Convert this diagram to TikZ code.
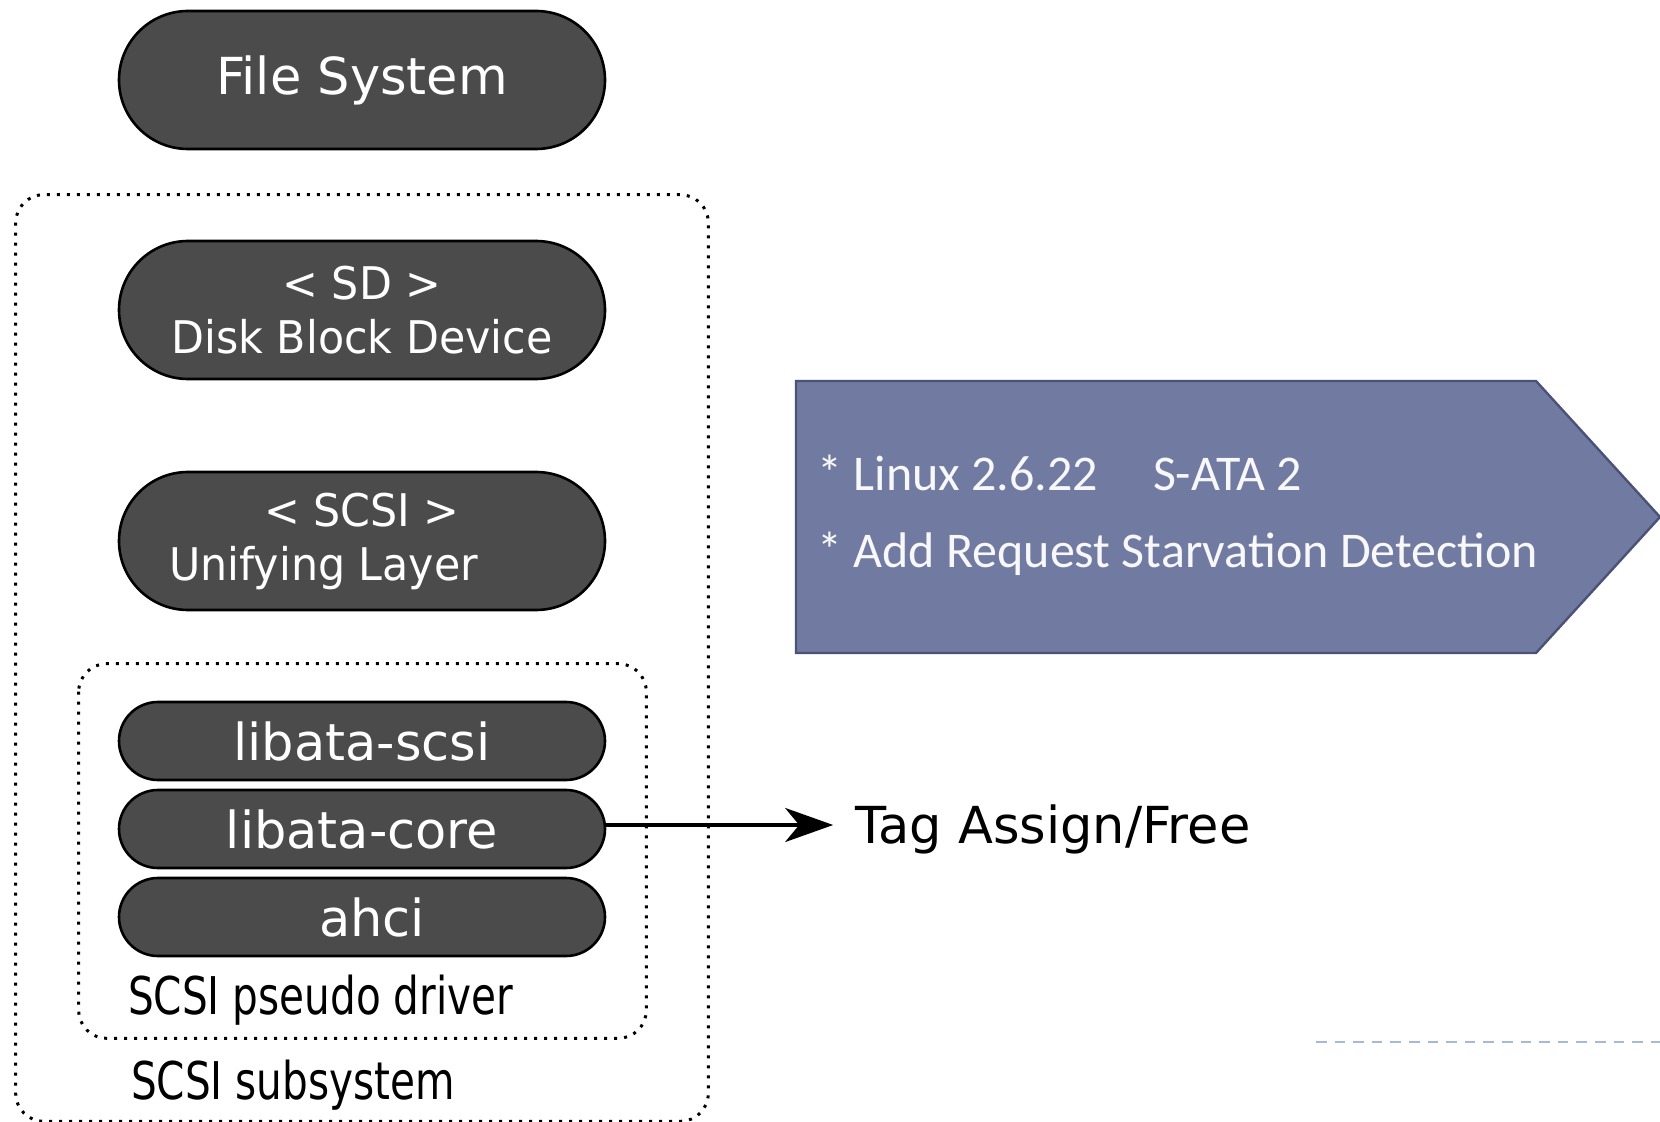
\documentclass[tikz,border=0pt]{standalone}
\usepackage{fontspec}
\setmainfont{DejaVu Sans}
\newfontfamily\narrowfont[FakeStretch=0.78]{DejaVu Sans}
\newfontfamily\pillfont[FakeStretch=0.95]{DejaVu Sans}
\newfontfamily\notefont{Carlito}
\usepackage{tikz}
\usetikzlibrary{shapes,calc,arrows.meta}
\definecolor{layergray}{HTML}{4B4B4B}
\definecolor{notefill}{HTML}{717BA1}
\definecolor{noteline}{HTML}{4A5278}
\definecolor{rulegray}{HTML}{A7BAD3}
\tikzstyle{layer} = [draw, line width=1.3pt, fill=layergray, text=white, rounded rectangle, minimum width=243pt, inner sep=0pt]
\tikzstyle{bigpill} = [layer, minimum height=69pt, align=center, font=\pillfont\fontsize{22.5}{27}\selectfont]
\tikzstyle{thinpill} = [layer, minimum height=39pt, font=\fontsize{25.5}{30}\selectfont]
\tikzstyle{groupbox} = [draw, line width=1.5pt, dash pattern=on 1.5pt off 3.5pt, rounded corners=14pt]
\tikzstyle{grouplabel} = [font=\narrowfont\fontsize{26}{30}\selectfont, inner sep=0pt, anchor=base west]
\tikzstyle{notebox} = [draw=noteline, line width=1.2pt, fill=notefill]
\tikzstyle{notetext} = [text=white!95!notefill, align=left, anchor=west, inner sep=0pt, font=\notefont\fontsize{25}{38.5}\selectfont]
\begin{document}
\begin{tikzpicture}[auto, node distance=115pt, >={Stealth[length=24pt,width=17pt,inset=7pt]}]
	  \useasboundingbox (0,0) rectangle (830pt,-561pt);
	  \node [bigpill, font=\fontsize{25.5}{30}\selectfont] (fs) at (181pt,-40pt) {File System};
	  \node [bigpill, below of=fs] (sd) {< SD >\\Disk Block Device};
	  \node [bigpill, below of=sd, node distance=115.5pt] (scsi) {< SCSI >\\Unifying Layer\hspace*{1.7em}};
	  \node [thinpill, below of=scsi, node distance=100pt] (lscsi) {libata-scsi};
	  \node [thinpill, below of=lscsi, node distance=44pt] (lcore) {libata-core};
	  \node [thinpill, below of=lcore, node distance=44pt] (ahci) {\hspace*{10pt}ahci};
	
	  \draw [groupbox] ($(sd.west |- sd.north)+(-51pt,22.5pt)$) rectangle ($(ahci.east |- ahci.south)+(51pt,-82pt)$);
	  \draw [groupbox] ($(lscsi.west |- lscsi.north)+(-19.5pt,18.5pt)$) rectangle ($(ahci.east |- ahci.south)+(20pt,-40.5pt)$);
	  \node [grouplabel] (pseudo) at ($(ahci.west)+(5pt,-48.5pt)$) {SCSI pseudo driver};
	  \node [grouplabel] (subsys) at ($(ahci.west)+(6.5pt,-91pt)$) {SCSI subsystem};
	
	  \draw [notebox] (398pt,-190.5pt) -- (768pt,-190.5pt) -- (830pt,-258.5pt) -- (768pt,-326.5pt) -- (398pt,-326.5pt) -- cycle;
	  \node [notetext] (note) at (408.5pt,-257.5pt) {* Linux 2.6.22\hspace{1.1em}S-ATA 2\\* Add Request Starvation Detection};
	
	  \node [right of=lcore, node distance=345.5pt, font=\fontsize{25.5}{30}\selectfont, inner xsep=11pt, inner ysep=0pt] (tag) {Tag Assign/Free};
	  \draw [->, line width=2pt] ([yshift=2pt]lcore.east) -- ([yshift=2pt]lcore.east -| tag.west);
	
	  \coordinate (rulestart) at (658pt,-521pt);
	  \coordinate (ruleend) at (830pt,-521pt);
	  \draw [rulegray, line width=1.3pt, dash pattern=on 5.3pt off 4pt] (rulestart) -- (ruleend);
	\end{tikzpicture}
\end{document}
